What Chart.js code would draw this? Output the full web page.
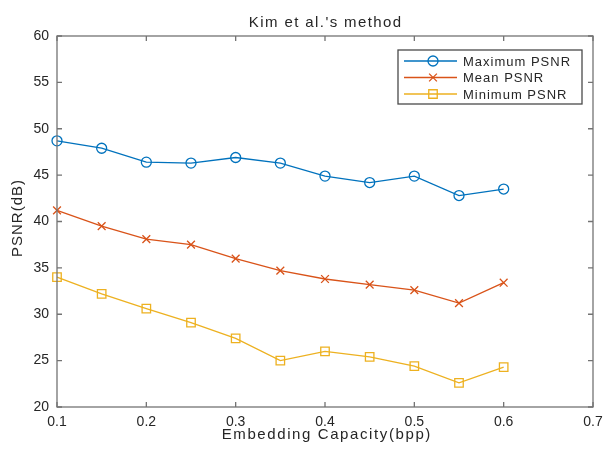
<!DOCTYPE html>
<html>
<head>
<meta charset="utf-8">
<script src="https://cdn.jsdelivr.net/npm/chart.js@4.4.1/dist/chart.umd.min.js"></script>
<style>
  html, body { margin: 0; padding: 0; background: #fff; }
  #wrap { width: 605px; height: 451px; }
</style>
</head>
<body>
<div id="wrap"><canvas id="psnrChart" width="605" height="451"></canvas></div>
<script>
// Embedding capacity (bpp) and PSNR results
const capacity = [0.1, 0.15, 0.2, 0.25, 0.3, 0.35, 0.4, 0.45, 0.5, 0.55, 0.6];
const maxPsnr = [48.7, 47.9, 46.4, 46.3, 46.9, 46.3, 44.9, 44.2, 44.9, 42.8, 43.5];
const meanPsnr = [41.2, 39.5, 38.1, 37.5, 36.0, 34.7, 33.8, 33.2, 32.6, 31.2, 33.4];
const minPsnr = [34.0, 32.2, 30.6, 29.1, 27.4, 25.0, 26.0, 25.4, 24.4, 22.6, 24.3];
const seriesNames = ['Maximum PSNR', 'Mean PSNR', 'Minimum PSNR'];
const xTicks = [0.1, 0.2, 0.3, 0.4, 0.5, 0.6, 0.7];
const yTicks = [20, 25, 30, 35, 40, 45, 50, 55, 60];

const FONT = '"Liberation Sans", Arial, Helvetica, sans-serif';
const AXIS_COLOR = '#737373';
const TEXT_COLOR = '#262626';

const toPoints = vals => vals.map((v, i) => ({ x: capacity[i], y: v }));

function makeSet(label, vals, color, style, radius) {
    return {
        label: label,
        data: toPoints(vals),
        borderColor: color,
        backgroundColor: 'rgba(0,0,0,0)',
        borderWidth: 1.3,
        pointStyle: style,
        pointRadius: radius,
        pointHoverRadius: radius,
        pointBorderColor: color,
        pointBorderWidth: 1.3,
        pointBackgroundColor: 'rgba(0,0,0,0)',
        tension: 0,
        clip: false
    };
}

// spaced-out text, centred on (x, y)
function spacedText(ctx, text, x, y, font, spacing, angle) {
    ctx.save();
    ctx.translate(x, y);
    if (angle) ctx.rotate(angle);
    ctx.font = font;
    ctx.letterSpacing = spacing + 'px';
    ctx.fillStyle = TEXT_COLOR;
    ctx.textAlign = 'center';
    ctx.textBaseline = 'middle';
    ctx.fillText(text, spacing / 2, 0);
    ctx.restore();
}

// MATLAB-style box with inward ticks on all four sides
const boxPlugin = {
    id: 'boxTicks',
    afterDatasetsDraw(chart) {
        const { ctx, chartArea: a, scales } = chart;
        const len = 5;
        ctx.save();
        ctx.strokeStyle = AXIS_COLOR;
        ctx.lineWidth = 1.3;
        ctx.strokeRect(a.left, a.top, a.right - a.left, a.bottom - a.top);
        ctx.beginPath();
        xTicks.forEach(t => {
            const px = scales.x.getPixelForValue(t);
            ctx.moveTo(px, a.bottom); ctx.lineTo(px, a.bottom - len);
            ctx.moveTo(px, a.top); ctx.lineTo(px, a.top + len);
        });
        yTicks.forEach(t => {
            const py = scales.y.getPixelForValue(t);
            ctx.moveTo(a.left, py); ctx.lineTo(a.left + len, py);
            ctx.moveTo(a.right, py); ctx.lineTo(a.right - len, py);
        });
        ctx.stroke();
        ctx.restore();
    }
};

// Title and axis labels
const labelPlugin = {
    id: 'plotLabels',
    afterDraw(chart) {
        const { ctx, chartArea: a } = chart;
        const cx = (a.left + a.right) / 2;
        spacedText(ctx, "Kim et al.'s method", cx, 23, '15px ' + FONT, 1.4, 0);
        spacedText(ctx, 'Embedding Capacity(bpp)', cx + 1, 435, '15px ' + FONT, 1.6, 0);
        spacedText(ctx, 'PSNR(dB)', 18, (a.top + a.bottom) / 2 - 3, '15px ' + FONT, 1, -Math.PI / 2);
    }
};

// Legend box with line + marker samples
const legendPlugin = {
    id: 'boxLegend',
    afterDraw(chart) {
        const { ctx } = chart;
        const x0 = 398, y0 = 50, w = 184, h = 54;
        ctx.save();
        ctx.fillStyle = '#fff';
        ctx.fillRect(x0, y0, w, h);
        ctx.strokeStyle = '#4a4a4a';
        ctx.lineWidth = 1.3;
        ctx.strokeRect(x0, y0, w, h);
        ctx.font = '13px ' + FONT;
        ctx.letterSpacing = '1px';
        ctx.textBaseline = 'middle';
        chart.data.datasets.forEach((ds, i) => {
            const cy = y0 + 11 + i * 16.5;
            ctx.strokeStyle = ds.borderColor;
            ctx.lineWidth = ds.borderWidth;
            ctx.beginPath();
            ctx.moveTo(x0 + 6, cy); ctx.lineTo(x0 + 59, cy);
            ctx.stroke();
            ctx.fillStyle = 'rgba(0,0,0,0)';
            Chart.helpers.drawPoint(ctx, {
                pointStyle: ds.pointStyle,
                radius: ds.pointRadius,
                borderWidth: ds.pointBorderWidth,
                rotation: 0
            }, x0 + 35, cy);
            ctx.fillStyle = TEXT_COLOR;
            ctx.fillText(ds.label, x0 + 65, cy + 1);
        });
        ctx.restore();
    }
};

new Chart(document.getElementById('psnrChart'), {
    type: 'line',
    data: {
        datasets: [
            makeSet(seriesNames[0], maxPsnr, '#0072BD', 'circle', 5),
            makeSet(seriesNames[1], meanPsnr, '#D95319', 'crossRot', 5.5),
            makeSet(seriesNames[2], minPsnr, '#EDB120', 'rect', 6)
        ]
    },
    options: {
        responsive: false,
        animation: false,
        events: [],
        layout: { padding: { top: 36, right: 12, left: 0, bottom: 0 } },
        plugins: {
            legend: { display: false },
            title: { display: false },
            tooltip: { enabled: false }
        },
        scales: {
            x: {
                type: 'linear',
                min: 0.1,
                max: 0.7,
                afterBuildTicks: scale => { scale.ticks = xTicks.map(v => ({ value: v })); },
                afterFit: scale => {
                    scale.height = 44;
                    scale.paddingLeft = 0;
                    scale.paddingRight = 0;
                },
                border: { display: false },
                grid: { display: false, drawTicks: false },
                ticks: {
                    padding: 7,
                    maxRotation: 0,
                    color: TEXT_COLOR,
                    font: { family: FONT, size: 14 },
                    callback: v => v.toFixed(1)
                }
            },
            y: {
                min: 20,
                max: 60,
                afterBuildTicks: scale => { scale.ticks = yTicks.map(v => ({ value: v })); },
                afterFit: scale => {
                    scale.width = 57;
                    scale.paddingTop = 0;
                    scale.paddingBottom = 0;
                },
                border: { display: false },
                grid: { display: false, drawTicks: false },
                ticks: {
                    padding: 8,
                    color: TEXT_COLOR,
                    font: { family: FONT, size: 14 }
                }
            }
        }
    },
    plugins: [boxPlugin, labelPlugin, legendPlugin]
});
</script>
</body>
</html>
